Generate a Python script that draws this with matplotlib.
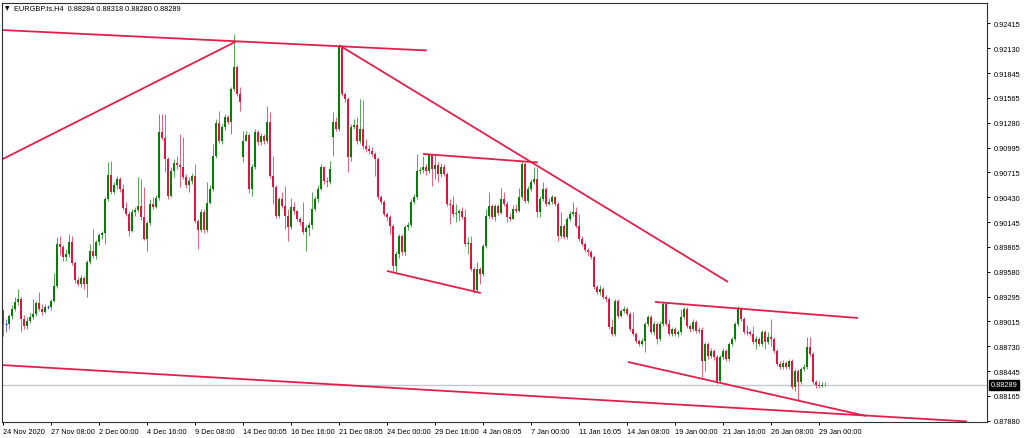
import matplotlib
matplotlib.use("Agg")
import matplotlib.pyplot as plt

plt.rcParams['font.family'] = ['Liberation Sans', 'DejaVu Sans']

symbol_title = "EURGBP.ts,H4  0.88284 0.88318 0.88280 0.88289"

first_open = 0.8913
gap_opens = {80: 0.9089, 110: 0.9112}

closes = [
    0.8898, 0.8898, 0.8908, 0.8916, 0.8923, 0.8927, 0.8904, 0.8896, 0.8902, 0.8906,
    0.8910, 0.8922, 0.8916, 0.8912, 0.8918, 0.8918, 0.8925, 0.8942, 0.8990, 0.8986,
    0.8975, 0.8978, 0.8992, 0.8968, 0.8949, 0.8944, 0.8951, 0.8944, 0.8969, 0.8982,
    0.8976, 0.8992, 0.9000, 0.9002, 0.9041, 0.9068, 0.9049, 0.9057, 0.9064, 0.9052,
    0.9031, 0.9024, 0.9004, 0.9026, 0.9028, 0.9033, 0.9020, 0.8995, 0.9014, 0.9035,
    0.9032, 0.9042, 0.9117, 0.9110, 0.9087, 0.9044, 0.9073, 0.9082, 0.9080, 0.9077,
    0.9066, 0.9057, 0.9061, 0.9067, 0.9016, 0.9006, 0.9026, 0.9006, 0.9036, 0.9052,
    0.9090, 0.9128, 0.9107, 0.9123, 0.9134, 0.9129, 0.9166, 0.9191, 0.9161, 0.9152,
    0.9107, 0.9114, 0.9052, 0.9077, 0.9117, 0.9106, 0.9113, 0.9107, 0.9129, 0.9067,
    0.9055, 0.9022, 0.9041, 0.9033, 0.9022, 0.9009, 0.9032, 0.9027, 0.9018, 0.9015,
    0.9003, 0.9008, 0.9011, 0.9030, 0.9041, 0.9052, 0.9077, 0.9061, 0.9060, 0.9075,
    0.9129, 0.9121, 0.9214, 0.9161, 0.9155, 0.9089, 0.9123, 0.9125, 0.9107, 0.9121,
    0.9101, 0.9098, 0.9096, 0.9092, 0.9087, 0.9043, 0.9038, 0.9024, 0.9020, 0.9010,
    0.8965, 0.8978, 0.8999, 0.8980, 0.9009, 0.9011, 0.9038, 0.9043, 0.9073, 0.9074,
    0.9077, 0.9073, 0.9092, 0.9075, 0.9080, 0.9069, 0.9077, 0.9069, 0.9035, 0.9034,
    0.9024, 0.9025, 0.9027, 0.9020, 0.8990, 0.8991, 0.8961, 0.8937, 0.8961, 0.8955,
    0.8987, 0.9022, 0.9033, 0.9020, 0.9033, 0.9025, 0.9041, 0.9035, 0.9020, 0.9018,
    0.9030, 0.9027, 0.9043, 0.9081, 0.9039, 0.9052, 0.9060, 0.9064, 0.9026, 0.9041,
    0.9052, 0.9035, 0.9038, 0.9043, 0.9035, 0.8999, 0.9010, 0.8998, 0.9018, 0.9024,
    0.9026, 0.9010, 0.8995, 0.8990, 0.8983, 0.8980, 0.8975, 0.8941, 0.8935, 0.8938,
    0.8929, 0.8927, 0.8895, 0.8887, 0.8925, 0.8908, 0.8913, 0.8916, 0.8910, 0.8893,
    0.8887, 0.8879, 0.8876, 0.8879, 0.8898, 0.8906, 0.8889, 0.8898, 0.8881, 0.8898,
    0.8921, 0.8898, 0.8887, 0.8893, 0.8887, 0.8889, 0.8906, 0.8916, 0.8896, 0.8893,
    0.8901, 0.8890, 0.8892, 0.8856, 0.8876, 0.8862, 0.8868, 0.8861, 0.8833, 0.8861,
    0.8868, 0.8858, 0.8876, 0.8881, 0.8898, 0.8916, 0.8904, 0.8889, 0.8889, 0.8887,
    0.8878, 0.8881, 0.8876, 0.8889, 0.8878, 0.8884, 0.8881, 0.8868, 0.8853, 0.8849,
    0.8854, 0.8849, 0.8856, 0.8827, 0.8845, 0.8832, 0.8847, 0.8849, 0.8872, 0.8864,
    0.8832, 0.88287, 0.88276, 0.88284, 0.88289,
]

highs = [
    0.8916, 0.8904, 0.8910, 0.8920, 0.8929, 0.8938, 0.8929, 0.8909, 0.8906, 0.8911,
    0.8927, 0.8925, 0.8935, 0.8921, 0.8921, 0.8920, 0.8927, 0.8957, 0.8998, 0.8999,
    0.8988, 0.8984, 0.9001, 0.8999, 0.8970, 0.8952, 0.8954, 0.8953, 0.8971, 0.8990,
    0.9007, 0.8994, 0.9002, 0.9004, 0.9043, 0.9083, 0.9084, 0.9060, 0.9067, 0.9066,
    0.9058, 0.9038, 0.9027, 0.9030, 0.9032, 0.9066, 0.9064, 0.9055, 0.9016, 0.9041,
    0.9043, 0.9045, 0.9138, 0.9138, 0.9138, 0.9089, 0.9077, 0.9087, 0.9090, 0.9115,
    0.9112, 0.9069, 0.9066, 0.9071, 0.9081, 0.9018, 0.9030, 0.9030, 0.9060, 0.9057,
    0.9104, 0.9132, 0.9141, 0.9126, 0.9138, 0.9137, 0.9169, 0.9229, 0.9194, 0.9169,
    0.9118, 0.9118, 0.9116, 0.9081, 0.9121, 0.9120, 0.9116, 0.9115, 0.9147, 0.9140,
    0.9090, 0.9057, 0.9043, 0.9049, 0.9056, 0.9030, 0.9042, 0.9038, 0.9028, 0.9020,
    0.9038, 0.9011, 0.9015, 0.9049, 0.9044, 0.9057, 0.9081, 0.9079, 0.9066, 0.9084,
    0.9140, 0.9134, 0.9218, 0.9215, 0.9163, 0.9157, 0.9126, 0.9132, 0.9134, 0.9155,
    0.9154, 0.9109, 0.9102, 0.9100, 0.9094, 0.9089, 0.9045, 0.9040, 0.9026, 0.9023,
    0.9012, 0.8982, 0.9001, 0.9001, 0.9011, 0.9015, 0.9041, 0.9047, 0.9092, 0.9077,
    0.9090, 0.9081, 0.9093, 0.9092, 0.9092, 0.9083, 0.9082, 0.9081, 0.9072, 0.9041,
    0.9044, 0.9035, 0.9030, 0.9032, 0.9030, 0.8998, 0.8999, 0.8963, 0.8969, 0.8963,
    0.8990, 0.9030, 0.9049, 0.9035, 0.9035, 0.9035, 0.9053, 0.9049, 0.9039, 0.9025,
    0.9034, 0.9035, 0.9053, 0.9084, 0.9083, 0.9056, 0.9064, 0.9077, 0.9077, 0.9044,
    0.9060, 0.9055, 0.9042, 0.9045, 0.9044, 0.9038, 0.9026, 0.9012, 0.9020, 0.9027,
    0.9038, 0.9032, 0.9024, 0.8999, 0.8992, 0.8985, 0.8983, 0.8977, 0.8943, 0.8943,
    0.8941, 0.8931, 0.8929, 0.8904, 0.8927, 0.8927, 0.8916, 0.8919, 0.8918, 0.8912,
    0.8912, 0.8889, 0.8881, 0.8882, 0.8901, 0.8909, 0.8909, 0.8902, 0.8901, 0.8902,
    0.8923, 0.8923, 0.8904, 0.8895, 0.8895, 0.8892, 0.8916, 0.8918, 0.8918, 0.8898,
    0.8904, 0.8903, 0.8895, 0.8895, 0.8878, 0.8878, 0.8871, 0.8870, 0.8863, 0.8863,
    0.8871, 0.8870, 0.8878, 0.8884, 0.8901, 0.8919, 0.8918, 0.8906, 0.8897, 0.8892,
    0.8896, 0.8885, 0.8884, 0.8892, 0.8892, 0.8889, 0.8904, 0.8884, 0.8870, 0.8856,
    0.8857, 0.8856, 0.8858, 0.8858, 0.8847, 0.8847, 0.8849, 0.8853, 0.8884, 0.8884,
    0.8866, 0.8835, 0.8833, 0.8832, 0.88318,
]

lows = [
    0.8885, 0.8889, 0.8893, 0.8904, 0.8913, 0.8920, 0.8889, 0.8893, 0.8893, 0.8900,
    0.8904, 0.8908, 0.8913, 0.8909, 0.8911, 0.8916, 0.8914, 0.8923, 0.8939, 0.8977,
    0.8970, 0.8970, 0.8975, 0.8966, 0.8945, 0.8942, 0.8941, 0.8938, 0.8929, 0.8967,
    0.8974, 0.8972, 0.8988, 0.8995, 0.8990, 0.9039, 0.9047, 0.9047, 0.9052, 0.9049,
    0.9028, 0.9022, 0.8999, 0.9003, 0.9022, 0.9026, 0.9017, 0.8994, 0.8982, 0.9011,
    0.9030, 0.9031, 0.9040, 0.9108, 0.9072, 0.9041, 0.9043, 0.9066, 0.9075, 0.9055,
    0.9064, 0.9053, 0.9049, 0.9058, 0.9014, 0.8984, 0.9003, 0.9002, 0.9003, 0.9035,
    0.9050, 0.9088, 0.9105, 0.9104, 0.9120, 0.9126, 0.9115, 0.9164, 0.9158, 0.9141,
    0.9083, 0.9107, 0.9048, 0.9044, 0.9075, 0.9102, 0.9102, 0.9104, 0.9105, 0.9065,
    0.9035, 0.9019, 0.9019, 0.9031, 0.9007, 0.8993, 0.9007, 0.9024, 0.9016, 0.9011,
    0.9001, 0.8982, 0.8999, 0.9007, 0.9027, 0.9038, 0.9051, 0.9058, 0.9055, 0.9058,
    0.9090, 0.9118, 0.9118, 0.9158, 0.9152, 0.9072, 0.9084, 0.9121, 0.9104, 0.9105,
    0.9098, 0.9094, 0.9092, 0.9090, 0.9067, 0.9041, 0.9035, 0.9022, 0.9016, 0.9001,
    0.8958, 0.8955, 0.8974, 0.8977, 0.8977, 0.9006, 0.9009, 0.9035, 0.9041, 0.9069,
    0.9071, 0.9068, 0.9071, 0.9056, 0.9064, 0.9060, 0.9066, 0.9067, 0.9033, 0.9012,
    0.9020, 0.9015, 0.9016, 0.9018, 0.8987, 0.8978, 0.8959, 0.8934, 0.8935, 0.8944,
    0.8953, 0.8985, 0.9019, 0.9018, 0.9016, 0.9023, 0.9024, 0.9033, 0.9015, 0.9016,
    0.9018, 0.9025, 0.9026, 0.9041, 0.9036, 0.9036, 0.9050, 0.9058, 0.9020, 0.9020,
    0.9039, 0.9033, 0.9034, 0.9035, 0.9033, 0.8993, 0.8996, 0.8995, 0.8995, 0.9016,
    0.9022, 0.9008, 0.8993, 0.8987, 0.8980, 0.8977, 0.8972, 0.8938, 0.8933, 0.8931,
    0.8927, 0.8923, 0.8893, 0.8885, 0.8885, 0.8905, 0.8906, 0.8911, 0.8908, 0.8890,
    0.8885, 0.8877, 0.8873, 0.8873, 0.8866, 0.8896, 0.8887, 0.8886, 0.8876, 0.8879,
    0.8896, 0.8896, 0.8885, 0.8885, 0.8885, 0.8884, 0.8887, 0.8904, 0.8894, 0.8889,
    0.8890, 0.8888, 0.8888, 0.8838, 0.8845, 0.8858, 0.8860, 0.8857, 0.8830, 0.8831,
    0.8858, 0.8856, 0.8856, 0.8873, 0.8879, 0.8896, 0.8902, 0.8887, 0.8886, 0.8885,
    0.8876, 0.8870, 0.8873, 0.8873, 0.8870, 0.8876, 0.8873, 0.8865, 0.8851, 0.8847,
    0.8847, 0.8847, 0.8847, 0.8824, 0.8822, 0.8811, 0.8830, 0.8845, 0.8847, 0.8862,
    0.8830, 0.8825, 0.88255, 0.88265, 0.88280,
]

time_labels = ["24 Nov 2020", "27 Nov 08:00", "2 Dec 00:00", "4 Dec 16:00",
               "9 Dec 08:00", "14 Dec 00:05", "16 Dec 16:00", "21 Dec 08:05",
               "24 Dec 00:00", "29 Dec 16:00", "4 Jan 08:05", "7 Jan 00:00",
               "11 Jan 16:05", "14 Jan 08:00", "19 Jan 00:00", "21 Jan 16:00",
               "26 Jan 08:00", "29 Jan 00:00"]
bars_per_label = 16

price_ticks = [0.92415, 0.92130, 0.91845, 0.91565, 0.91280, 0.90995, 0.90715,
               0.90430, 0.90145, 0.89865, 0.89580, 0.89295, 0.89015, 0.88730,
               0.88445, 0.88165, 0.87880]

# trend lines: (bar index, price) pairs
trend_lines = [
    ((-1.0, 0.92336), (141.3, 0.92102)),
    ((-1.0, 0.90848), (77.7, 0.92204)),
    ((112.3, 0.92157), (241.7, 0.89463)),
    ((140.0, 0.90922), (178.3, 0.90825)),
    ((128.0, 0.89588), (159.3, 0.89337)),
    ((217.3, 0.89235), (285.0, 0.89052)),
    ((208.3, 0.88551), (287.7, 0.87935)),
    ((-1.0, 0.88517), (321.3, 0.87873)),
]
last_price = 0.88289

# ---------------------------------------------------------------
W, H = 1024, 439
fig = plt.figure(figsize=(W / 100, H / 100), dpi=100)
ax = fig.add_axes([1.7 / W, (H - 423.3) / H, (987 - 1.7) / W, (423.3 - 4) / H])
ax.set_facecolor('white')

n = len(closes)
opens = [first_open] + [gap_opens.get(i, closes[i - 1]) for i in range(1, n)]

GREEN = '#058005'
RED = '#e0143c'
BLUE = '#2030d0'
for i in range(n):
    o, c = opens[i], closes[i]
    hi = max(highs[i], o, c)
    lo = min(lows[i], o, c)
    if c > o:
        col = GREEN
    elif c < o:
        col = RED
    else:
        col = BLUE
    ax.vlines(i, lo, hi, color=col, linewidth=0.6, alpha=0.8)
    if c == o:
        ax.hlines(c, i - 0.45, i + 0.45, color=col, linewidth=0.8)
    else:
        hgt = max(abs(c - o), 0.00009)
        ax.bar(i, hgt, bottom=min(o, c), width=0.66, color=col, linewidth=0)

for (x0, y0), (x1, y1) in trend_lines:
    ax.plot([x0, x1], [y0, y1], color='#e0204a', linewidth=1.3,
            solid_capstyle='butt')

ax.axhline(last_price, color='#c3c9d0', linewidth=1.0, zorder=0.5)

ax.set_xlim(-0.4, 328)
ax.set_ylim(0.87863, 0.92643)

ax.set_xticks([k * bars_per_label for k in range(len(time_labels))])
ax.set_xticklabels(time_labels, ha='left')
ax.yaxis.tick_right()
ax.set_yticks(price_ticks)
ax.set_yticklabels([f"{p:.5f}" for p in price_ticks])
ax.tick_params(axis='both', direction='out', length=2.5, width=0.7,
               labelsize=5.3, colors='black', pad=1.5)
ax.tick_params(axis='y', pad=2.5)
for sp in ax.spines.values():
    sp.set_color('#303030')
    sp.set_linewidth(0.8)

ax.annotate(f"{last_price:.5f}", xy=(1.0, last_price),
            xycoords=('axes fraction', 'data'),
            xytext=(2.5, 0), textcoords='offset points',
            ha='left', va='center', fontsize=5.3, color='white',
            bbox=dict(boxstyle='square,pad=0.18', facecolor='black',
                      edgecolor='black'))

fig.text(4.5 / W, 1 - 8.5 / H, '\u25bc', fontsize=4.2, ha='left', va='center',
         family=['DejaVu Sans'])
fig.text(14 / W, 1 - 8.5 / H, symbol_title, fontsize=5.3, ha='left', va='center')

fig.savefig('out.png', dpi=100)
